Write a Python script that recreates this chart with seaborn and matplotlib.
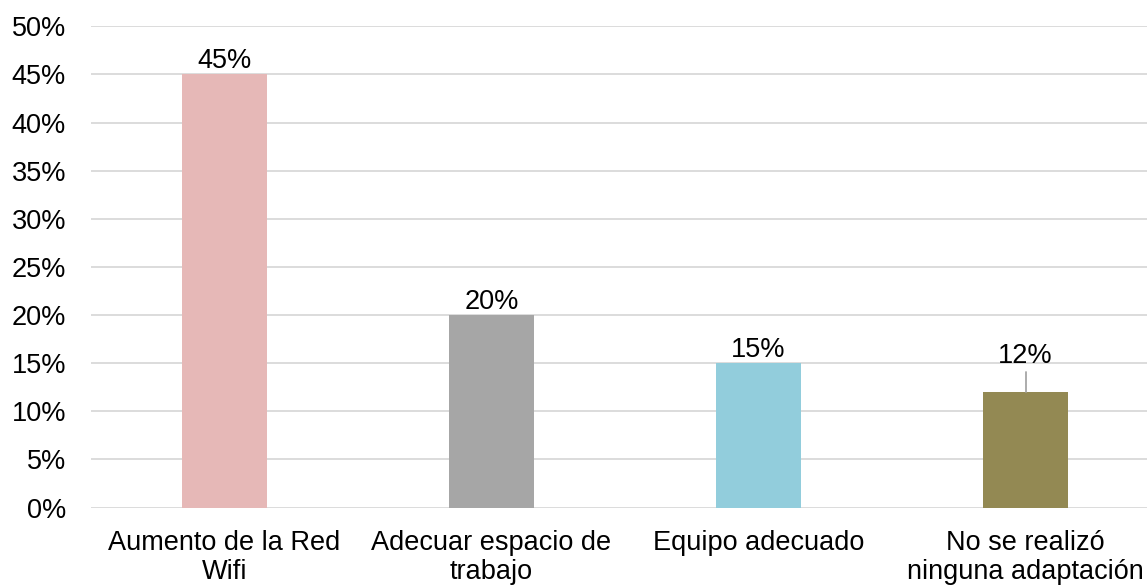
import matplotlib
matplotlib.use("Agg")
import matplotlib.pyplot as plt
import seaborn as sns
import pandas as pd
from matplotlib.ticker import FuncFormatter

categories = ["Aumento de la Red\nWifi", "Adecuar espacio de\ntrabajo",
              "Equipo adecuado", "No se realizó\nninguna adaptación"]
values = [45, 20, 15, 12]
colors = ["#E6B8B7", "#A6A6A6", "#92CDDC", "#938953"]
label_texts = ["45%", "20%", "15%", "12%"]

sns.set_style("white")
plt.rcParams['font.family'] = ['Liberation Sans', 'DejaVu Sans']

df = pd.DataFrame({"cat": categories, "val": values})

fig = plt.figure(figsize=(11.47, 5.86), dpi=100)
ax = fig.add_axes([91/1147, 1 - 507.5/586, 1068/1147, (507.5-26.3)/586])

sns.barplot(data=df, x="cat", y="val", hue="cat", palette=colors,
            width=0.315, legend=False, ax=ax, saturation=1, zorder=3,
            linewidth=0)

ax.set_ylim(0, 50)
ax.set_yticks(range(0, 51, 5))
ax.yaxis.set_major_formatter(FuncFormatter(lambda v, p: f"{int(v)}%"))
ax.grid(axis="y", color="#D9D9D9", linewidth=1.3, zorder=0)
ax.grid(axis="x", visible=False)
ax.set_axisbelow(True)
for s in ax.spines.values():
    s.set_visible(False)
ax.tick_params(axis="both", length=0, labelsize=19.5, colors="black")
ax.tick_params(axis="y", pad=18)
ax.tick_params(axis="x", pad=16.5)
for t in ax.get_xticklabels():
    t.set_linespacing(1.13)
ax.set_xlabel("")
ax.set_ylabel("")
ax.set_xlim(-0.5, 3.5)

for i, (v, txt) in enumerate(zip(values, label_texts)):
    if i == 3:
        ax.plot([i, i], [v, v + 2.1], color="#A6A6A6", linewidth=1.3, zorder=4)
        ax.text(i, 15, txt, ha="center", va="baseline", fontsize=19.5, color="black")
    else:
        ax.annotate(txt, (i, v), xytext=(0, 4.3), textcoords="offset points",
                    ha="center", va="baseline", fontsize=19.5, color="black")

fig.savefig("out.png", dpi=100)
